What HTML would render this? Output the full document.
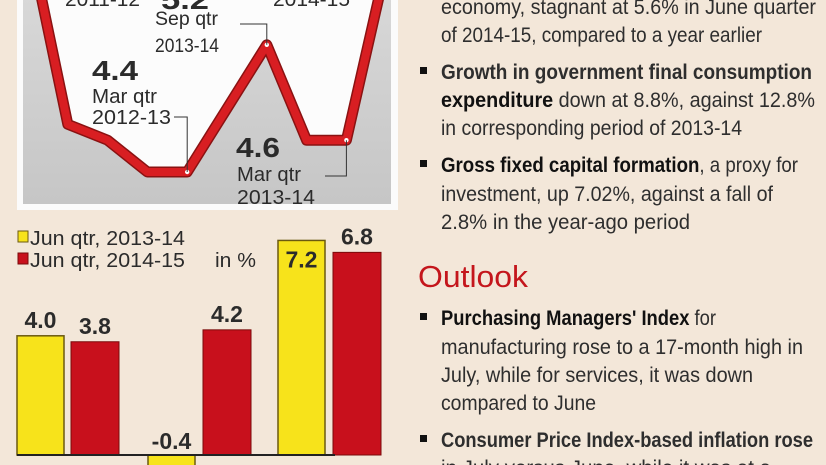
<!DOCTYPE html>
<html><head><meta charset="utf-8"><style>
html,body{margin:0;padding:0;background:#f3e7d9;}
svg{display:block;font-family:"Liberation Sans",sans-serif;}
</style></head><body>
<svg id="chart" width="826" height="465" viewBox="0 0 826 465">
<defs>
<linearGradient id="pg" x1="0" y1="0" x2="0" y2="1"><stop offset="0" stop-color="#d8d8d8"/><stop offset="1" stop-color="#c6c6c6"/></linearGradient>
</defs>
<rect x="0" y="0" width="826" height="465" fill="#f3e7d9"/>
<g id="linepanel">
<rect x="17" y="-5" width="381" height="215" fill="#fbfbfb"/>
<rect x="23" y="-5" width="368" height="209" fill="url(#pg)"/>
</g>
<g id="bars"></g>
<g id="text"></g>
</svg>
<script>
// ---- line chart data ----
const lineQuarters = ["Q4 2011-12","Q1 2012-13","Q2 2012-13","Q3 2012-13","Q4 2012-13","Q1 2013-14","Q2 2013-14","Q3 2013-14","Q4 2013-14","Q1 2014-15"];
const lineValues = [5.9, 4.7, 4.6, 4.4, 4.4, 4.8, 5.2, 4.6, 4.6, 5.7];
// ---- bar chart data ----
const categories = ["cat-1","cat-2","cat-3","cat-4"];
const series2013 = [4.0, -0.4, null, 7.2];
const series2014 = [3.8, null, 4.2, 6.8];
const valueLabels2013 = ["4.0","-0.4","","7.2"];
const valueLabels2014 = ["3.8","","4.2","6.8"];
const legendLabels = ["Jun qtr, 2013-14","Jun qtr, 2014-15"];

const NS="http://www.w3.org/2000/svg";
function mk(tag,attrs,parent){const e=document.createElementNS(NS,tag);for(const k in attrs)e.setAttribute(k,attrs[k]);parent.appendChild(e);return e;}
function txt(parent,x,y,s,size,w,opts){opts=opts||{};const t=mk("text",{x:x,y:y,"font-size":size,fill:opts.fill||"#2b2b2b","font-weight":opts.bold?"bold":"normal"},parent);
 if(w){t.setAttribute("textLength",w);t.setAttribute("lengthAdjust","spacingAndGlyphs");}
 if(opts.anchor)t.setAttribute("text-anchor",opts.anchor);t.textContent=s;return t;}

// line chart
const lp=document.getElementById("linepanel");
const lx=i=>28+i*39.8;
const ly=v=>172-(v-4.4)*159;
const pts=lineValues.map((v,i)=>[lx(i),ly(v)]);
const under="M"+pts.map(p=>p.join(",")).join(" L")+" L"+lx(lineValues.length-1)+",-5 L28,-5 Z";
const wa=mk("path",{d:under,fill:"#fcfcfc"},lp);


const pl=pts.map(p=>p.join(",")).join(" ");
const sh=mk("polyline",{points:pl,fill:"none",stroke:"#8a1212",'stroke-width':11,'stroke-linejoin':"round"},lp);


const ln=mk("polyline",{points:pl,fill:"none",stroke:"#d81e22",'stroke-width':8,'stroke-linejoin':"round"},lp);


[4,6,8].forEach(i=>{const c=mk("circle",{cx:pts[i][0],cy:pts[i][1],r:2.2,fill:"#fff"},lp);

});
// leaders
const lead=(d)=>{const p=mk("path",{d:d,fill:"none",stroke:"#333",'stroke-width':1},lp);

};
lead(`M174,117 H${pts[4][0]} V${pts[4][1]}`);
lead(`M240,24 H${pts[6][0]} V${pts[6][1]}`);
lead(`M325,176 H${pts[8][0]} V${pts[8][1]}`);
// labels
let t;
t=txt(lp,65,6,"2011-12",20,75);
t=txt(lp,161,9,"5.2",27,48,{bold:1});
t=txt(lp,155,25,"Sep qtr",19,63);
t=txt(lp,155,52,"2013-14",19,64);
t=txt(lp,273,6,"2014-15",20,77);
t=txt(lp,92,80,"4.4",28,46,{bold:1});
t=txt(lp,92,103,"Mar qtr",20,65);
t=txt(lp,92,124,"2012-13",20,79);
t=txt(lp,236,157,"4.6",28,44,{bold:1});
t=txt(lp,237,181,"Mar qtr",20,64);
t=txt(lp,237,204,"2013-14",20,78);

// bar chart
const bg=document.getElementById("bars");
const base=455, ppu=29.8;
const by=v=>base-v*ppu;
const groupX=[17,148,203,278];
const b13x=i=>[17,148,null,278][i];
const b14x=i=>[71,null,203,333][i];
categories.forEach((c,i)=>{
 if(series2013[i]!==null){const v=series2013[i];const x=b13x(i);
  const r=mk("rect",{x:x,y:Math.min(by(v),base),width:47,height:Math.abs(v*ppu),fill:"#f7e31b",stroke:"#6b5a10",'stroke-width':1.5},bg);
  
  
  const ly2 = v<0 ? base-6 : (v>6 ? by(v)+27 : by(v)-8);
  const tl=txt(bg,x+23.5,ly2,valueLabels2013[i],23,null,{bold:1,anchor:"middle"});
  
  }
 if(series2014[i]!==null){const v=series2014[i];const x=b14x(i);
  const r=mk("rect",{x:x,y:by(v),width:48,height:v*ppu,fill:"#c8101c",stroke:"#7a0a0a",'stroke-width':1},bg);
  
  
  const tl=txt(bg,x+24,by(v)-8,valueLabels2014[i],23,null,{bold:1,anchor:"middle"});
  
  }
});
const ax=mk("line",{x1:17,y1:base,x2:335,y2:base,stroke:"#222",'stroke-width':2},bg);


const lg1=mk("rect",{x:18,y:231,width:10,height:11,fill:"#f7e31b",stroke:"#6b5a10"},bg);


const lg2=mk("rect",{x:18,y:253,width:10,height:11,fill:"#c8101c",stroke:"#7a0a0a"},bg);


t=txt(bg,30,245,legendLabels[0],20,155);
t=txt(bg,30,267,legendLabels[1],20,155);
t=txt(bg,215,267,"in %",20,41);

// right column text
const tg=document.getElementById("text");
const lines=[
 [7,"economy, stagnant at 5.6% in June quarter",375,null],
 [35,"of 2014-15, compared to a year earlier",321,null],
 [72,"Growth in government final consumption",371,"all",1],
 [100,"expenditure| down at 8.8%, against 12.8%",374,"part",null],
 [128,"in corresponding period of 2013-14",301,null],
 [165,"Gross fixed capital formation|, a proxy for",357,"part",1],
 [194,"investment, up 7.02%, against a fall of",332,null],
 [222,"2.8% in the year-ago period",249,null],
 [318,"Purchasing Managers' Index| for",275,"part",1],
 [347,"manufacturing rose to a 17-month high in",362,null],
 [375,"July,  while for services, it was down",312,null],
 [403,"compared to June",155,null],
 [440,"Consumer Price Index-based inflation rose",372,"all",1],
 [468,"in July versus June, while it was at a",330,null]
];
lines.forEach((L,k)=>{
 const [cy,s,w,bold,bullet]=L;
 const t=mk("text",{x:441,y:cy+7,'font-size':21,fill:"#2e2e2e",textLength:w,lengthAdjust:"spacingAndGlyphs"},tg);
 
 
 if(bold==="all"){t.setAttribute("font-weight","bold");t.textContent=s;}
 else if(bold==="part"){const [a,b]=s.split("|");const s1=mk("tspan",{'font-weight':"bold",fill:"#111"},t);s1.textContent=a;const s2=mk("tspan",{},t);s2.textContent=b;}
 else t.textContent=s;
 if(bullet){const r=mk("rect",{x:420,y:cy-5,width:7,height:7,fill:"#111"},tg);
  
  }
});
t=txt(tg,418,287,"Outlook",31,110,{fill:"#c4161c"});


</script>
</body></html>
